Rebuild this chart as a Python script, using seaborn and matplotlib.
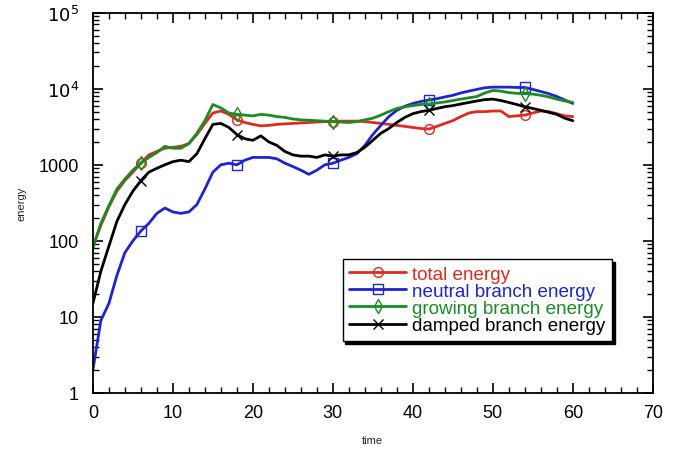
import numpy as np
import pandas as pd
import matplotlib
matplotlib.use("Agg")
import matplotlib.pyplot as plt
import matplotlib.ticker as mticker
import seaborn as sns

# energy curves, one value per time unit
time = list(range(61))

total = [85, 160, 280, 450, 620, 800, 1050, 1350, 1500, 1650,
         1700, 1750, 1900, 2500, 3500, 4800, 5100, 4600, 3900, 3600,
         3400, 3250, 3300, 3400, 3450, 3500, 3550, 3600, 3650, 3700,
         3700, 3750, 3750, 3750, 3700, 3600, 3500, 3400, 3300, 3200,
         3100, 3000, 2950, 3200, 3500, 3800, 4300, 4800, 5000, 5000,
         5100, 5100, 4300, 4400, 4500, 4800, 5100, 5000, 4700, 4400,
         4300]

neutral = [2, 9, 15, 35, 70, 100, 135, 170, 230, 270,
           240, 230, 240, 300, 480, 800, 1000, 1050, 1000, 1150,
           1250, 1250, 1250, 1200, 1050, 950, 850, 750, 850, 1000,
           1050, 1150, 1250, 1400, 1800, 2500, 3300, 4300, 5200, 5900,
           6400, 6800, 7100, 7400, 7800, 8200, 8800, 9300, 9800, 10300,
           10500, 10500, 10500, 10400, 10400, 9800, 9200, 8600, 7900, 7100,
           6400]

growing = [80, 170, 290, 480, 650, 850, 1050, 1250, 1450, 1750,
           1650, 1650, 1900, 2600, 3800, 6200, 5600, 4800, 4600, 4500,
           4400, 4600, 4500, 4300, 4200, 4000, 3900, 3850, 3800, 3750,
           3700, 3650, 3600, 3700, 3900, 4100, 4500, 5000, 5500, 5800,
           6000, 6200, 6300, 6500, 6700, 7000, 7300, 7600, 7900, 8800,
           9500, 9300, 8900, 8700, 8600, 8500, 8200, 7800, 7300, 6900,
           6600]

damped = [15, 40, 85, 180, 300, 450, 620, 800, 900, 1000,
          1100, 1150, 1100, 1400, 2200, 3400, 3500, 3100, 2500, 2200,
          2100, 2400, 2000, 1800, 1500, 1350, 1300, 1300, 1250, 1350,
          1300, 1350, 1350, 1450, 1700, 2100, 2600, 3000, 3600, 4200,
          4700, 5000, 5200, 5500, 5800, 6000, 6300, 6600, 6900, 7200,
          7300, 7000, 6600, 6200, 5800, 5500, 5200, 4900, 4600, 4100,
          3800]

labels = ["total energy", "neutral branch energy",
          "growing branch energy", "damped branch energy"]
colors = ["#e02a1f", "#1f24d2", "#1a8c22", "black"]
markers = ["o", "s", "d", "x"]
marker_idx = [6, 18, 30, 42, 54]

sns.set_style("ticks")
plt.rcParams["font.family"] = ["Liberation Sans", "DejaVu Sans"]

fig = plt.figure(figsize=(6.73, 4.56), dpi=100)
ax = fig.add_axes([0.138, 0.136, 0.832, 0.834])

for vals, lab, col, mk in zip([total, neutral, growing, damped], labels, colors, markers):
    sns.lineplot(x=time, y=vals, ax=ax, color=col, linewidth=2.0,
                 marker=mk, markevery=marker_idx, markersize=7,
                 markerfacecolor="none", markeredgecolor=col,
                 markeredgewidth=1.0, label=lab)

ax.set_yscale("log")
ax.set_xlim(0, 70)
ax.set_ylim(1, 1e5)
ax.xaxis.set_major_locator(mticker.MultipleLocator(10))
ax.xaxis.set_minor_locator(mticker.MultipleLocator(2))
ax.yaxis.set_major_locator(mticker.FixedLocator([1, 10, 100, 1000, 1e4, 1e5]))
ax.yaxis.set_major_formatter(mticker.FixedFormatter(["1", "10", "100", "1000", "$10^4$", "$10^5$"]))
ax.yaxis.set_minor_locator(mticker.LogLocator(base=10, subs=np.arange(2, 10)))
ax.yaxis.set_minor_formatter(mticker.NullFormatter())

ax.tick_params(which="both", direction="in", top=True, right=True, colors="black")
ax.tick_params(which="major", length=7, width=1.2, labelsize=13)
ax.tick_params(axis="y", which="major", pad=10)
ax.tick_params(axis="x", which="major", pad=8)
ax.tick_params(which="minor", length=4, width=1.0)
for s in ax.spines.values():
    s.set_linewidth(1.3)
    s.set_color("black")

ax.set_xlabel("time", fontsize=8, labelpad=10)
ax.set_ylabel("energy", fontsize=8, labelpad=9)

leg = ax.legend(loc="lower left", bbox_to_anchor=(0.446, 0.137), borderaxespad=0,
                fontsize=13.6, frameon=True, fancybox=False,
                shadow={"color": "black", "alpha": 1.0},
                edgecolor="black", framealpha=1, borderpad=0.35, labelspacing=0.0,
                handlelength=3.0, handletextpad=0.35)
leg.get_frame().set_linewidth(1.0)
for txt, col in zip(leg.get_texts(), colors):
    txt.set_color(col)

fig.savefig("out.png", dpi=100)
